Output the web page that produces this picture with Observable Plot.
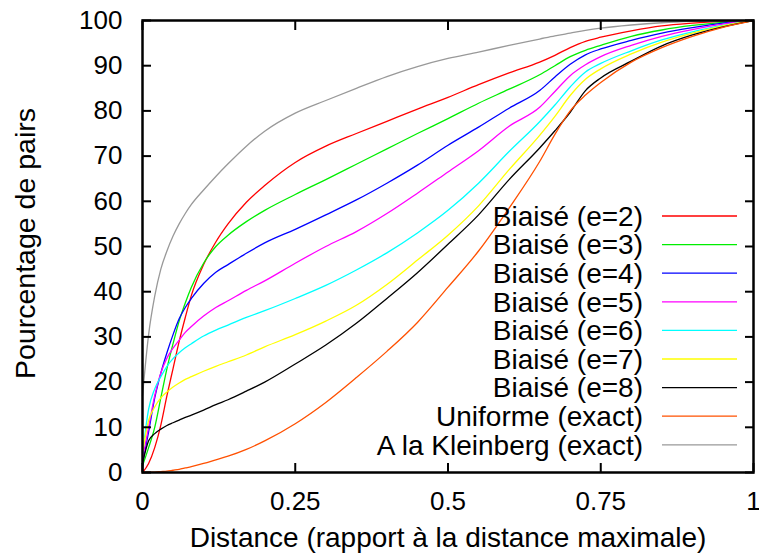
<!DOCTYPE html>
<html><head><meta charset="utf-8">
<script src="https://cdn.jsdelivr.net/npm/d3@7"></script>
<script src="https://cdn.jsdelivr.net/npm/@observablehq/plot@0.6"></script>
<style>
body{margin:0;background:#fff}
svg{font-family:"Liberation Sans",Arial,sans-serif}
</style>
</head><body><div id="chart"></div>
<script>
const distances = [0, 0.01, 0.02, 0.03, 0.04, 0.05, 0.06, 0.07, 0.08, 0.1, 0.12, 0.14, 0.17, 0.2, 0.25, 0.3, 0.35, 0.4, 0.45, 0.5, 0.55, 0.6, 0.65, 0.675, 0.7, 0.725, 0.75, 0.8, 0.85, 0.9, 0.95, 1];

const seriesNames = ["Biaisé (e=2)", "Biaisé (e=3)", "Biaisé (e=4)", "Biaisé (e=5)", "Biaisé (e=6)", "Biaisé (e=7)", "Biaisé (e=8)", "Uniforme (exact)", "A la Kleinberg (exact)"];
const seriesColors = ["#ff0000", "#00ee00", "#0000ff", "#ff00ff", "#00ffff", "#ffff00", "#000000", "#ff5000", "#999999"];

const e2 = [0, 2, 5.5, 10.5, 17, 23, 29, 34.3, 39.2, 46, 51, 55, 59.8, 63.5, 68.6, 72.2, 75, 77.7, 80.4, 83, 85.8, 88.4, 90.8, 92.3, 94, 95.4, 96.3, 97.7, 98.8, 99.4, 99.8, 100];
const e3 = [1.5, 5.5, 10, 16.5, 23, 28.5, 33.5, 37.5, 41, 46.3, 50, 52.5, 55.5, 58, 61.5, 64.8, 68.2, 71.6, 75, 78.3, 81.7, 84.8, 88, 90, 92, 93.4, 94.5, 96.5, 97.9, 98.9, 99.6, 100];
const e4 = [2, 9, 16.5, 22, 26.5, 30.5, 34, 36.5, 38.5, 41.8, 44.3, 46, 48.5, 50.8, 53.8, 57, 60.3, 64, 68, 72.4, 76.4, 80.6, 84.5, 87.5, 90.3, 92.4, 93.7, 95.6, 97.2, 98.4, 99.4, 100];
const e5 = [3, 10, 17, 22, 25.3, 27.5, 29.3, 31, 32.3, 34.6, 36.5, 38, 40.3, 42.4, 46.3, 50, 53.3, 57.3, 61.8, 66.5, 71.2, 76.6, 80.8, 84.3, 87.8, 90.2, 92, 94.5, 96.5, 98, 99.2, 100];
const e6 = [4, 14, 18.5, 21.2, 23.5, 25.2, 26.5, 27.6, 28.5, 30.2, 31.5, 32.6, 34.3, 35.8, 38.5, 41.4, 44.8, 48.6, 53, 58, 64, 71, 77.6, 81.3, 85.3, 88.6, 90.5, 93.3, 95.7, 97.5, 98.9, 100];
const e7 = [4.5, 11.5, 14.5, 16.5, 17.8, 18.9, 19.8, 20.6, 21.2, 22.4, 23.5, 24.5, 26, 27.8, 30.5, 33.5, 37, 41.6, 47, 52.5, 59, 67, 74.6, 78.8, 83.4, 87, 89.3, 92.6, 95.2, 97.2, 98.8, 100];
const e8 = [2, 7, 8.6, 9.6, 10.4, 11, 11.6, 12.2, 12.7, 13.8, 15, 16.1, 18, 20, 24, 28.2, 33, 38.5, 44.2, 50.5, 57, 64.8, 71.8, 75.6, 79.7, 84.5, 87.3, 91, 94.4, 96.8, 98.6, 100];
const uniforme = [0, 0.05, 0.1, 0.2, 0.3, 0.5, 0.7, 1, 1.3, 2, 2.8, 3.6, 5.1, 7, 10.8, 15.5, 21, 26.8, 33.2, 41, 49, 58.5, 68.8, 74.8, 80, 83.5, 86.3, 90.8, 94, 96.5, 98.5, 100];
const kleinberg = [17, 30.5, 39, 45, 49, 52.3, 55, 57.3, 59.3, 62.5, 65.5, 68.3, 72.2, 75.5, 79.5, 82.3, 85, 87.6, 89.8, 91.6, 93, 94.5, 95.9, 96.6, 97.2, 97.8, 98.3, 99, 99.5, 99.8, 99.95, 100];

const xTicks = [0, 0.25, 0.5, 0.75, 1];
const yTicks = [0, 10, 20, 30, 40, 50, 60, 70, 80, 90, 100];
const xLabel = "Distance (rapport à la distance maximale)";
const yLabel = "Pourcentage de pairs";

const allSeries = [e2, e3, e4, e5, e6, e7, e8, uniforme, kleinberg];
const data = allSeries.flatMap((vals, i) => vals.map((v, j) => ({x: distances[j], y: v, s: seriesNames[i]})));

const plot = Plot.plot({
  width: 759, height: 559,
  marginLeft: 142, marginRight: 6, marginTop: 20, marginBottom: 87,
  style: {fontFamily: '"Liberation Sans", Arial, sans-serif', fontSize: "26px", color: "black", background: "white", overflow: "visible"},
  x: {domain: [0, 1]},
  y: {domain: [0, 100]},
  color: {domain: seriesNames, range: seriesColors},
  marks: [
    Plot.line(data, {x: "x", y: "y", stroke: "s", strokeWidth: 1.3, curve: "monotone-x"}),
    Plot.axisX({ticks: xTicks, tickSize: -9, tickPadding: 28, tickFormat: d => String(d), label: null, strokeWidth: 2, fontSize: 26}),
    Plot.axisX({anchor: "top", ticks: xTicks, tickSize: -9, tickFormat: () => "", label: null, strokeWidth: 2}),
    Plot.axisY({ticks: yTicks, tickSize: -9, tickPadding: 29, tickFormat: d => String(d), label: null, strokeWidth: 2, fontSize: 26}),
    Plot.axisY({anchor: "right", ticks: yTicks, tickSize: -9, tickFormat: () => "", label: null, strokeWidth: 2}),
    Plot.frame({stroke: "black", strokeWidth: 2.5}),
    Plot.text([yLabel], {frameAnchor: "left", dx: -117, rotate: -90, textAnchor: "middle", lineAnchor: "middle", text: d => d, fontSize: 28.5, dy: -3}),
    Plot.text([xLabel], {frameAnchor: "bottom", dy: 66, textAnchor: "middle", lineAnchor: "middle", text: d => d, fontSize: 28})
  ]
});

const svg = d3.select(plot);
const legend = svg.append("g").attr("font-size", 28).attr("font-family", '"Liberation Sans", Arial, sans-serif');
seriesNames.forEach((name, i) => {
  const cy = 216 + i * 28.6;
  legend.append("text").attr("x", 643).attr("y", cy).attr("dy", "0.35em").attr("text-anchor", "end").attr("fill", "black").text(name);
  legend.append("line").attr("x1", 662).attr("x2", 737).attr("y1", cy).attr("y2", cy).attr("stroke", seriesColors[i]).attr("stroke-width", 1.3);
});

document.getElementById("chart").appendChild(plot);
</script>
</body></html>
